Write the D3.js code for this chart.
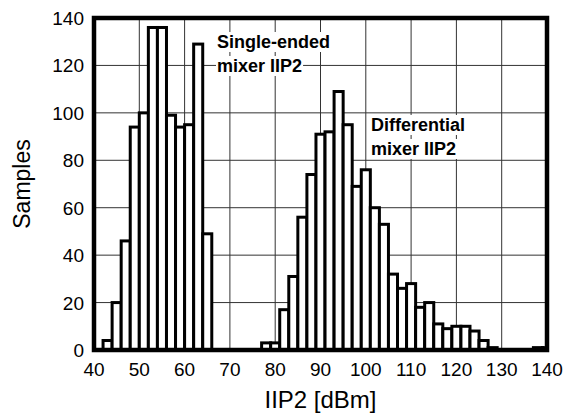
<!DOCTYPE html>
<html lang="en">
<head>
    <meta charset="UTF-8" />
    <title>IIP2 histogram</title>
    <script src="https://d3js.org/d3.v7.min.js"></script>
    <style>
        html, body {
            margin: 0;
            padding: 0;
            background: #fff;
        }
        svg text {
            font-family: "Liberation Sans", Arial, Helvetica, sans-serif;
        }
        .grid line {
            stroke: #333;
            stroke-width: 1;
        }
        .bar {
            fill: #fff;
            stroke: #000;
            stroke-width: 3;
        }
    </style>
</head>
<body>
<div id="chart"></div>

<script>
    // Bin width of the histogram [dBm]
    const binWidth = 2;

    // Single-ended mixer: bin left edges and counts
    const seBins   = [42, 44, 46, 48, 50, 52, 54, 56, 58, 60, 62, 64];
    const seCounts = [4, 20, 46, 94, 100, 136, 136, 99, 94, 95, 129, 49];

    // Differential mixer: bin left edges and counts
    const diffBins   = [77, 79, 81, 83, 85, 87, 89, 91, 93, 95, 97, 99, 101, 103, 105,
                        107, 109, 111, 113, 115, 117, 119, 121, 123, 125, 127, 137, 139];
    const diffCounts = [3, 3, 17, 31, 56, 74, 91, 92, 109, 95, 69, 76, 60, 53, 32,
                        26, 28, 18, 20, 11, 9, 10, 10, 8, 4, 1, 1, 1];

    // Axis ticks
    const xTicks = [40, 50, 60, 70, 80, 90, 100, 110, 120, 130, 140];
    const yTicks = [0, 20, 40, 60, 80, 100, 120, 140];

    // Annotations
    const notes = [
        { lines: ["Single-ended", "mixer IIP2"], x: 217, y: 48 },
        { lines: ["Differential", "mixer IIP2"], x: 371, y: 131 }
    ];

    const W = 567, H = 413;
    const m = { left: 94, right: 547, top: 18, bottom: 350 };

    const x = d3.scaleLinear().domain([40, 140]).range([m.left, m.right]);
    const y = d3.scaleLinear().domain([0, 140]).range([m.bottom, m.top]);

    const svg = d3.select("#chart").append("svg")
        .attr("width", W)
        .attr("height", H);

    svg.append("defs").append("clipPath")
        .attr("id", "plot-clip")
        .append("rect")
        .attr("x", m.left)
        .attr("y", m.top - 5)
        .attr("width", m.right - m.left)
        .attr("height", m.bottom - m.top + 5);

    // grid
    const grid = svg.append("g").attr("class", "grid");
    grid.selectAll("line.v")
        .data(xTicks.slice(1, -1))
        .enter().append("line")
        .attr("class", "v")
        .attr("x1", d => x(d)).attr("x2", d => x(d))
        .attr("y1", m.top).attr("y2", m.bottom);
    grid.selectAll("line.h")
        .data(yTicks.slice(1, -1))
        .enter().append("line")
        .attr("class", "h")
        .attr("x1", m.left).attr("x2", m.right)
        .attr("y1", d => y(d)).attr("y2", d => y(d));

    // annotations with white backing
    notes.forEach(n => {
        const g = svg.append("g");
        n.lines.forEach((t, i) => {
            const txt = g.append("text")
                .attr("x", n.x)
                .attr("y", n.y + i * 24)
                .attr("font-size", 18)
                .attr("font-weight", "bold")
                .text(t);
            const bb = txt.node().getBBox();
            g.insert("rect", "text")
                .attr("x", bb.x - 1)
                .attr("y", bb.y)
                .attr("width", bb.width + 2)
                .attr("height", bb.height)
                .attr("fill", "#fff");
        });
    });

    // bars
    const bars = svg.append("g").attr("clip-path", "url(#plot-clip)");
    const seData = seBins.map((b, i) => ({ x0: b, n: seCounts[i] }));
    const diffData = diffBins.map((b, i) => ({ x0: b, n: diffCounts[i] }));

    bars.selectAll("rect")
        .data(seData.concat(diffData))
        .enter().append("rect")
        .attr("class", "bar")
        .attr("x", d => x(d.x0))
        .attr("width", d => x(d.x0 + binWidth) - x(d.x0))
        .attr("y", d => y(d.n))
        .attr("height", d => y(0) - y(d.n));

    // frame
    svg.append("rect")
        .attr("x", m.left).attr("y", m.top)
        .attr("width", m.right - m.left)
        .attr("height", m.bottom - m.top)
        .attr("fill", "none")
        .attr("stroke", "#000")
        .attr("stroke-width", 4.5);

    // tick labels
    svg.append("g").selectAll("text")
        .data(xTicks)
        .enter().append("text")
        .attr("x", d => x(d))
        .attr("y", 376)
        .attr("text-anchor", "middle")
        .attr("font-size", 19)
        .text(d => d);

    svg.append("g").selectAll("text")
        .data(yTicks)
        .enter().append("text")
        .attr("x", 84)
        .attr("y", d => y(d) + 7)
        .attr("text-anchor", "end")
        .attr("font-size", 19)
        .text(d => d);

    // axis titles
    svg.append("text")
        .attr("x", (m.left + m.right) / 2)
        .attr("y", 408)
        .attr("text-anchor", "middle")
        .attr("font-size", 24)
        .text("IIP2 [dBm]");

    svg.append("text")
        .attr("transform", `translate(30,${(m.top + m.bottom) / 2}) rotate(-90)`)
        .attr("text-anchor", "middle")
        .attr("font-size", 23)
        .text("Samples");
</script>
</body>
</html>
